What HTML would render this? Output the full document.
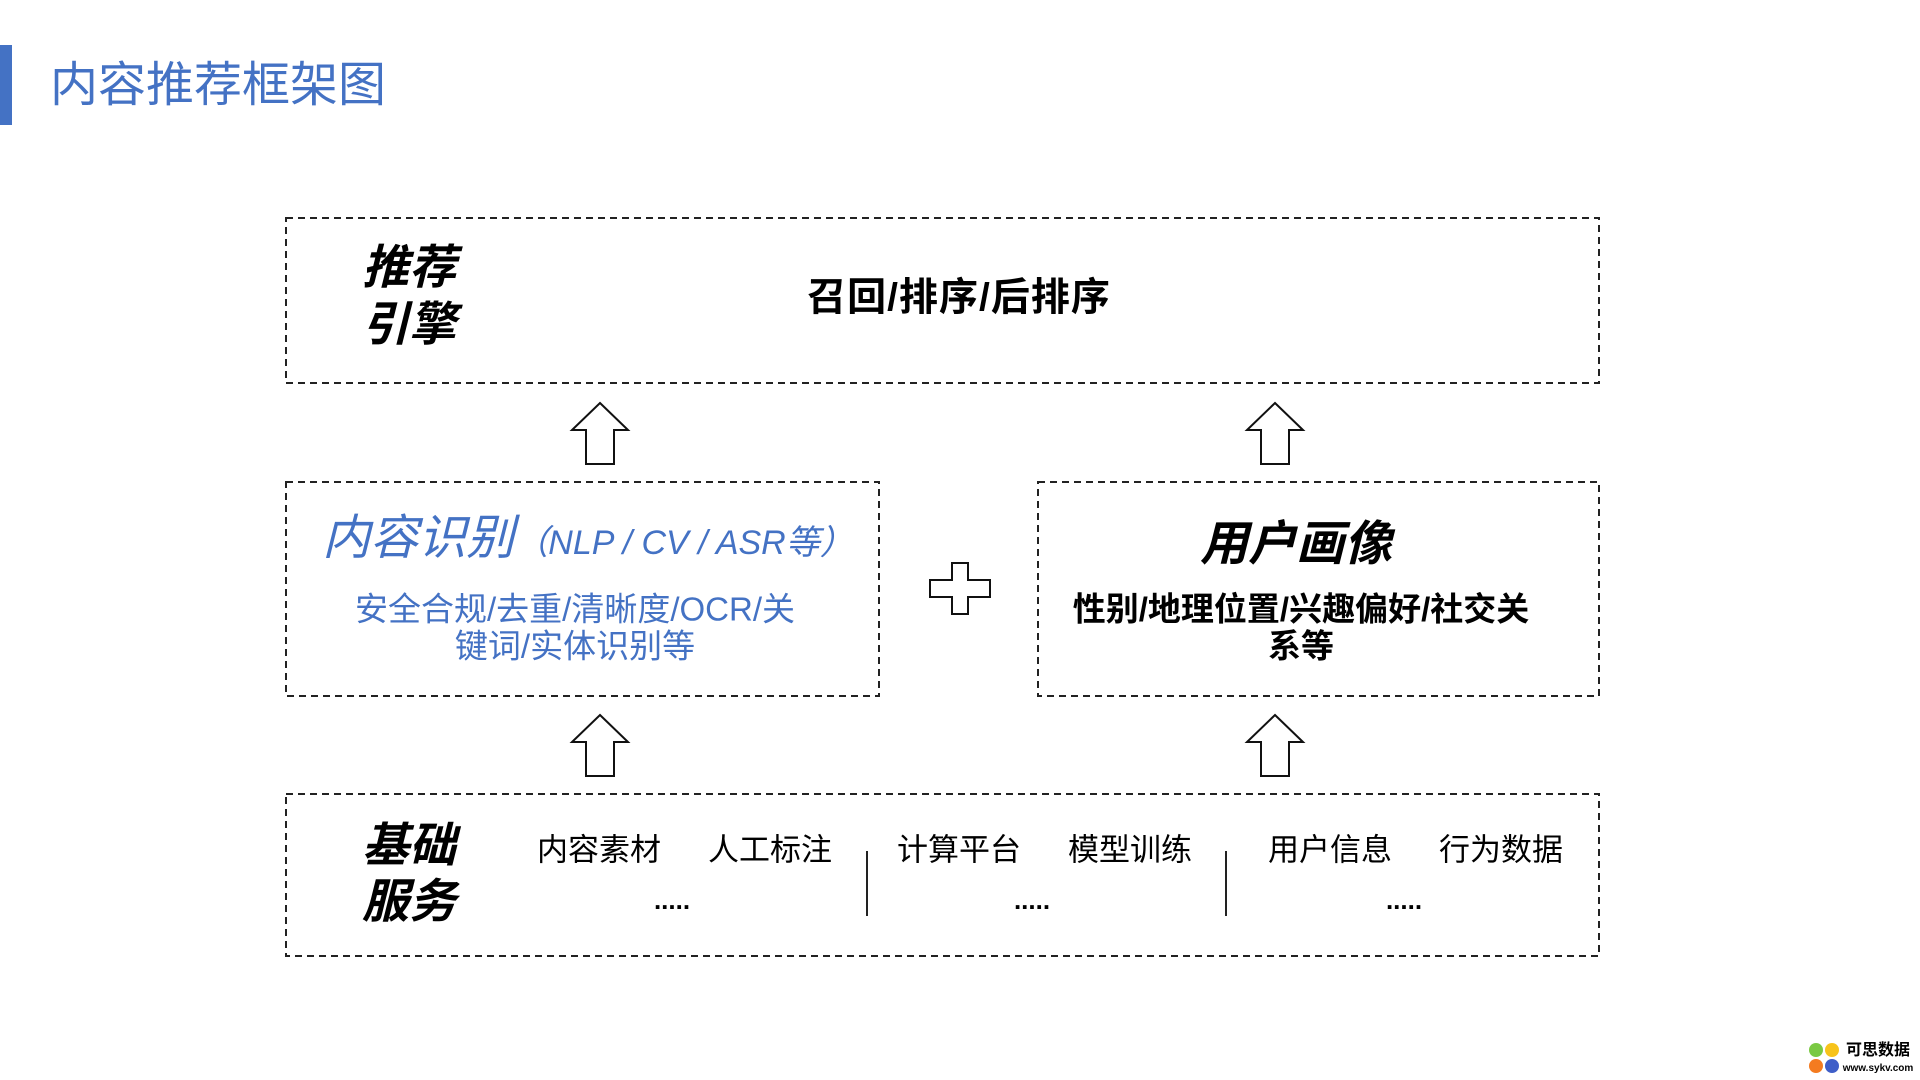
<!DOCTYPE html>
<html><head><meta charset="utf-8"><style>
html,body{margin:0;padding:0;background:#fff;}
body{width:1920px;height:1080px;position:relative;overflow:hidden;font-family:"Liberation Sans","Noto Sans CJK SC",sans-serif;}
.t{position:absolute;white-space:nowrap;line-height:1;transform:translate(-50%,-50%);}
svg{position:absolute;left:0;top:0;}
</style></head><body>
<svg width="1920" height="1080">
<rect x="0" y="45" width="12" height="80" fill="#4472c4"/>
<g fill="none" stroke="#222" stroke-width="2" stroke-dasharray="7 5">
<rect x="286" y="218" width="1313" height="165"/>
<rect x="286" y="482" width="593" height="214"/>
<rect x="1038" y="482" width="561" height="214"/>
<rect x="286" y="794" width="1313" height="162"/>
</g>
<g fill="#fff" stroke="#111" stroke-width="2">
<polygon points="600,403 628,430 614,430 614,464 586,464 586,430 572,430"/>
<polygon points="1275,403 1303,430 1289,430 1289,464 1261,464 1261,430 1247,430"/>
<polygon points="600,715 628,742 614,742 614,776 586,776 586,742 572,742"/>
<polygon points="1275,715 1303,742 1289,742 1289,776 1261,776 1261,742 1247,742"/>
<polygon points="952,563 968,563 968,580 990,580 990,597 968,597 968,614 952,614 952,597 930,597 930,580 952,580"/>
</g>
<g stroke="#222" stroke-width="2"><line x1="867" y1="851" x2="867" y2="916"/><line x1="1226" y1="851" x2="1226" y2="916"/></g>
<circle cx="1816" cy="1050" r="7" fill="#7ac943"/><circle cx="1832" cy="1050" r="7" fill="#f7c31b"/>
<circle cx="1816" cy="1066" r="7" fill="#f47b20"/><circle cx="1832" cy="1066" r="7" fill="#3f5ec8"/>
</svg>
<div class="t" style="left:218px;top:86px;font-size:48px;color:#4472c4;">内容推荐框架图</div>
<div class="t" style="left:409px;top:267px;font-size:47px;font-weight:bold;font-style:italic;">推荐</div>
<div class="t" style="left:409px;top:324px;font-size:47px;font-weight:bold;font-style:italic;">引擎</div>
<div class="t" style="left:959px;top:298px;font-size:39px;font-weight:bold;letter-spacing:1px;">召回/排序/后排序</div>
<div class="t" style="left:588px;top:539px;color:#4472c4;font-style:italic;"><span style="font-size:48px;">内容识别</span><span style="font-size:34px;">（NLP / CV / ASR等）</span></div>
<div class="t" style="left:575px;top:609px;font-size:33px;color:#4472c4;">安全合规/去重/清晰度/OCR/关</div>
<div class="t" style="left:575px;top:646px;font-size:33px;color:#4472c4;">键词/实体识别等</div>
<div class="t" style="left:1296px;top:545px;font-size:48px;font-weight:bold;font-style:italic;">用户画像</div>
<div class="t" style="left:1301px;top:609px;font-size:33px;font-weight:bold;">性别/地理位置/兴趣偏好/社交关</div>
<div class="t" style="left:1301px;top:646px;font-size:33px;font-weight:bold;">系等</div>
<div class="t" style="left:409px;top:845px;font-size:47px;font-weight:bold;font-style:italic;">基础</div>
<div class="t" style="left:409px;top:901px;font-size:47px;font-weight:bold;font-style:italic;">服务</div>
<div class="t" style="left:599px;top:850px;font-size:31px;">内容素材</div>
<div class="t" style="left:770px;top:850px;font-size:31px;">人工标注</div>
<div class="t" style="left:959px;top:850px;font-size:31px;">计算平台</div>
<div class="t" style="left:1130px;top:850px;font-size:31px;">模型训练</div>
<div class="t" style="left:1330px;top:850px;font-size:31px;">用户信息</div>
<div class="t" style="left:1501px;top:850px;font-size:31px;">行为数据</div>
<div class="t" style="left:672px;top:900px;font-size:26px;font-weight:bold;">.....</div>
<div class="t" style="left:1032px;top:900px;font-size:26px;font-weight:bold;">.....</div>
<div class="t" style="left:1404px;top:900px;font-size:26px;font-weight:bold;">.....</div>
<div class="t" style="left:1878px;top:1051px;font-size:16px;font-weight:bold;">可思数据</div>
<div class="t" style="left:1878px;top:1069px;font-size:10px;font-weight:bold;">www.sykv.com</div>
</body></html>
